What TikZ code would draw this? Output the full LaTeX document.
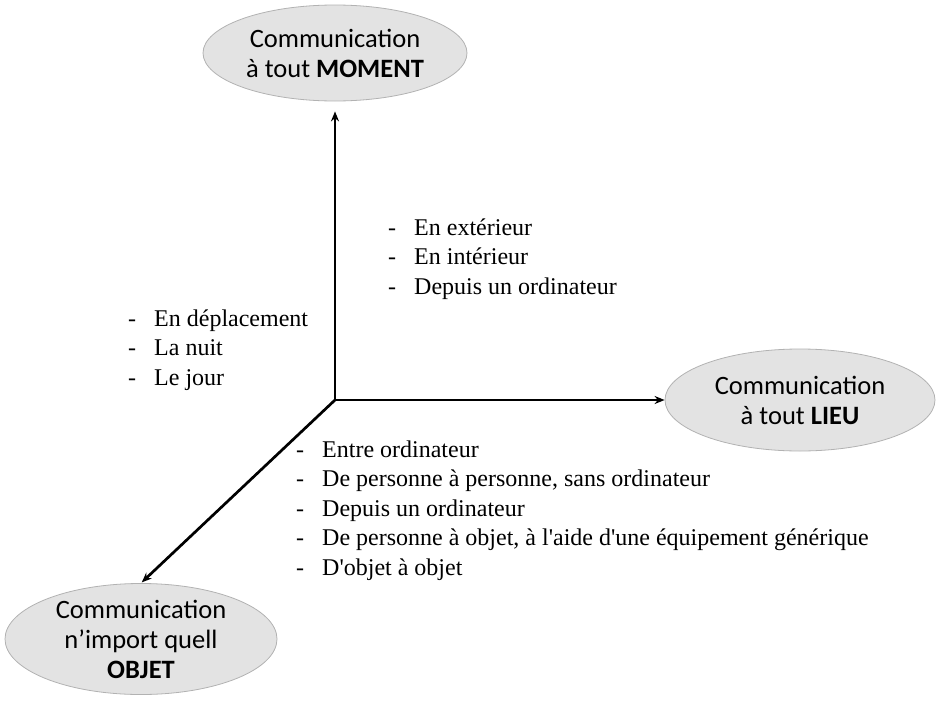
\documentclass[tikz,border=0pt]{standalone}
\usepackage{fontspec}
\setmainfont{Liberation Serif}
\newfontfamily\calib{Carlito}
\usetikzlibrary{arrows.meta,shapes.geometric}
\newcommand{\itm}[1]{\makebox[26pt][l]{-}#1}
\begin{document}
\begin{tikzpicture}[x=1pt,y=-1pt,
            every node/.style = {inner sep=0pt},
            bulle/.style = {ellipse, draw=gray!60, fill=gray!22, line width=0.8pt, align=center,
                font=\calib\fontsize{26.5}{30}\selectfont},
            axe/.style = {line width=2.7pt, -{Stealth[length=10pt,width=8pt]}},
            liste/.style = {anchor=base west, align=left, font=\fontsize{24}{29.5}\selectfont}]
            \useasboundingbox (0,0) rectangle (940,720);
            \coordinate (O) at (335,400);
            \node[bulle, minimum width=264pt, minimum height=96pt] (moment) at (335,53) {Communication\\à tout \textbf{MOMENT}};
            \node[bulle, minimum width=270pt, minimum height=102pt] (lieu) at (800,400) {Communication\\à tout \textbf{LIEU}};
            \node[bulle, minimum width=272pt, minimum height=102pt] (objet) at (141,639) {Communication\\n’import quell\\\textbf{OBJET}};
            \draw[axe, shorten >=10pt] (O) -- (moment);
            \draw[axe] (O) -- (lieu);
            \draw[axe, shorten >=1pt] (O) -- (objet.north);
            \node[liste] (lieux) at (388,294) {\itm{En extérieur}\\\itm{En intérieur}\\\itm{Depuis un ordinateur}};
            \node[liste] (moments) at (128,385) {\itm{En déplacement}\\\itm{La nuit}\\\itm{Le jour}};
            \node[liste] (objets) at (296,575) {\itm{Entre ordinateur}\\\itm{De personne à personne, sans ordinateur}\\\itm{Depuis un ordinateur}\\\itm{De personne à objet, à l\textquotesingle aide d\textquotesingle une équipement générique}\\\itm{D\textquotesingle objet à objet}};
\end{tikzpicture}
\end{document}
